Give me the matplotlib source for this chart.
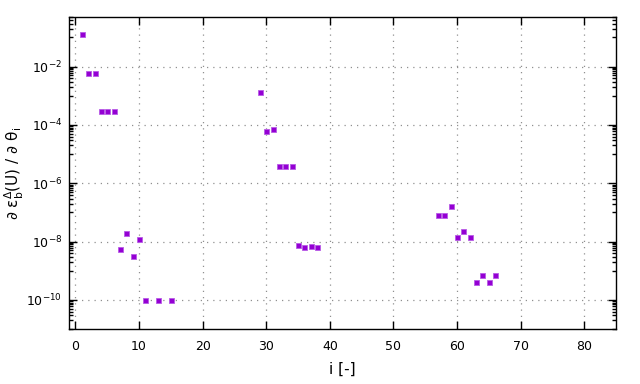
import matplotlib.pyplot as plt
import numpy as np
from matplotlib.ticker import FixedLocator, LogFormatterSciNotation, NullFormatter

# derivative of the error w.r.t. each parameter
idx = [1, 2, 3, 4, 5, 6, 7, 8, 9, 10, 11, 13, 15,
       29, 30, 31, 32, 33, 34, 35, 36, 37, 38,
       57, 58, 59, 60, 61, 62, 63, 64, 65, 66]
dval = [1.35e-1, 6.2e-3, 6.2e-3, 2.9e-4, 2.9e-4, 2.9e-4, 5.4e-9, 1.9e-8, 3.3e-9, 1.2e-8, 1e-10, 1e-10, 1e-10,
        1.4e-3, 6e-5, 7e-5, 3.8e-6, 3.8e-6, 3.8e-6, 7.9e-9, 6.7e-9, 7.3e-9, 6.7e-9,
        8.3e-8, 8.3e-8, 1.6e-7, 1.4e-8, 2.4e-8, 1.4e-8, 4e-10, 6.9e-10, 4e-10, 6.9e-10]

major_y = 10.0 ** np.arange(-10, 1, 2)
minor_y = [k * 10.0 ** n for n in range(-11, 1, 2) for k in range(1, 10)]

fig = plt.figure(figsize=(6.4, 3.84), dpi=100, facecolor='white')
ax = fig.add_axes([0.108, 0.143, 0.8545, 0.8125])

ax.plot(idx, dval, ls='none', marker='s', ms=3.6, color='#9400d3',
        mec='#b85ae6', mew=0.6)

ax.set_yscale('log')
ax.set_xlim(-1, 85)
ax.set_ylim(1e-11, 0.5)
ax.set_xticks(np.arange(0, 81, 10))
ax.yaxis.set_major_locator(FixedLocator(major_y))
ax.yaxis.set_major_formatter(LogFormatterSciNotation())
ax.yaxis.set_minor_locator(FixedLocator(minor_y))
ax.yaxis.set_minor_formatter(NullFormatter())

ax.tick_params(which='both', direction='in', top=True, right=True, labelsize=9, colors='black')
ax.tick_params(which='major', length=6, width=1)
ax.tick_params(which='minor', length=3, width=1)
ax.tick_params(axis='x', pad=8)
ax.tick_params(axis='y', pad=5)
for s in ax.spines.values():
    s.set_linewidth(1)

ax.grid(True, which='major', ls=(0, (1, 4)), color='#909090', lw=0.9)

ax.set_xlabel('i [-]', fontsize=11, labelpad=6)
ax.set_ylabel(r'∂ ε$_\mathregular{b}^\mathregular{\Delta}$(U) / ∂ θ$_\mathregular{i}$', fontsize=11)
ax.yaxis.set_label_coords(-0.1, 0.5)
ax.yaxis.label.set_va('center')

plt.savefig('out.png', dpi=100)
